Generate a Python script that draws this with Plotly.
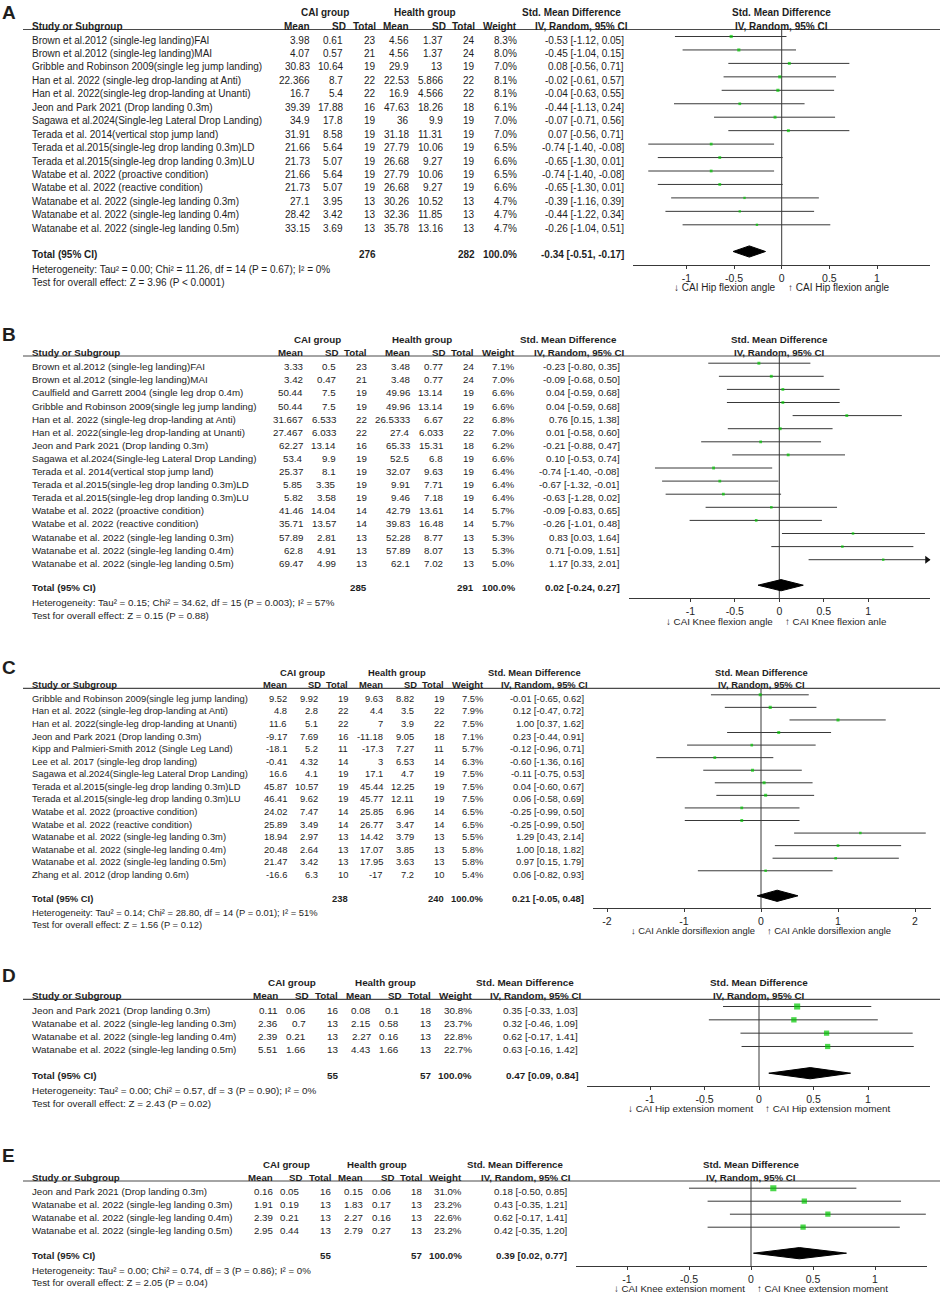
import plotly.graph_objects as go

# ======================= DATA =======================
A_study = [
    "Brown et al.2012 (single-leg landing)FAI",
    "Brown et al.2012 (single-leg landing)MAI",
    "Gribble and Robinson 2009(single leg jump landing)",
    "Han et al. 2022 (single-leg drop-landing at Anti)",
    "Han et al. 2022(single-leg drop-landing at Unanti)",
    "Jeon and Park 2021 (Drop landing 0.3m)",
    "Sagawa et al.2024(Single-leg Lateral Drop Landing)",
    "Terada et al. 2014(vertical stop jump land)",
    "Terada et al.2015(single-leg drop landing 0.3m)LD",
    "Terada et al.2015(single-leg drop landing 0.3m)LU",
    "Watabe et al. 2022 (proactive condition)",
    "Watabe et al. 2022 (reactive condition)",
    "Watanabe et al. 2022 (single-leg landing 0.3m)",
    "Watanabe et al. 2022 (single-leg landing 0.4m)",
    "Watanabe et al. 2022 (single-leg landing 0.5m)",
]
A_cai_mean = [3.98, 4.07, 30.83, 22.366, 16.7, 39.39, 34.9, 31.91, 21.66, 21.73, 21.66, 21.73, 27.1, 28.42, 33.15]
A_cai_sd = [0.61, 0.57, 10.64, 8.7, 5.4, 17.88, 17.8, 8.58, 5.64, 5.07, 5.64, 5.07, 3.95, 3.42, 3.69]
A_cai_n = [23, 21, 19, 22, 22, 16, 19, 19, 19, 19, 19, 19, 13, 13, 13]
A_hlt_mean = [4.56, 4.56, 29.9, 22.53, 16.9, 47.63, 36, 31.18, 27.79, 26.68, 27.79, 26.68, 30.26, 32.36, 35.78]
A_hlt_sd = [1.37, 1.37, 13, 5.866, 4.566, 18.26, 9.9, 11.31, 10.06, 9.27, 10.06, 9.27, 10.52, 11.85, 13.16]
A_hlt_n = [24, 24, 19, 22, 22, 18, 19, 19, 19, 19, 19, 19, 13, 13, 13]
A_weight = [8.3, 8.0, 7.0, 8.1, 8.1, 6.1, 7.0, 7.0, 6.5, 6.6, 6.5, 6.6, 4.7, 4.7, 4.7]
A_smd = [-0.53, -0.45, 0.08, -0.02, -0.04, -0.44, -0.07, 0.07, -0.74, -0.65, -0.74, -0.65, -0.39, -0.44, -0.26]
A_ci_low = [-1.12, -1.04, -0.56, -0.61, -0.63, -1.13, -0.71, -0.56, -1.40, -1.30, -1.40, -1.30, -1.16, -1.22, -1.04]
A_ci_high = [0.05, 0.15, 0.71, 0.57, 0.55, 0.24, 0.56, 0.71, -0.08, 0.01, -0.08, 0.01, 0.39, 0.34, 0.51]
A_total_n = [276, 282]
A_total_smd = [-0.34, -0.51, -0.17]
A_heterogeneity = "Heterogeneity: Tau² = 0.00; Chi² = 11.26, df = 14 (P = 0.67); I² = 0%"
A_overall = "Test for overall effect: Z = 3.96 (P < 0.0001)"
A_direction = ["↓ CAI Hip flexion angle", "↑ CAI Hip flexion angle"]

B_study = [
    "Brown et al.2012 (single-leg landing)FAI",
    "Brown et al.2012 (single-leg landing)MAI",
    "Caulfield and Garrett 2004 (single leg drop 0.4m)",
    "Gribble and Robinson 2009(single leg jump landing)",
    "Han et al. 2022 (single-leg drop-landing at Anti)",
    "Han et al. 2022(single-leg drop-landing at Unanti)",
    "Jeon and Park 2021 (Drop landing 0.3m)",
    "Sagawa et al.2024(Single-leg Lateral Drop Landing)",
    "Terada et al. 2014(vertical stop jump land)",
    "Terada et al.2015(single-leg drop landing 0.3m)LD",
    "Terada et al.2015(single-leg drop landing 0.3m)LU",
    "Watabe et al. 2022 (proactive condition)",
    "Watabe et al. 2022 (reactive condition)",
    "Watanabe et al. 2022 (single-leg landing 0.3m)",
    "Watanabe et al. 2022 (single-leg landing 0.4m)",
    "Watanabe et al. 2022 (single-leg landing 0.5m)",
]
B_cai_mean = [3.33, 3.42, 50.44, 50.44, 31.667, 27.467, 62.27, 53.4, 25.37, 5.85, 5.82, 41.46, 35.71, 57.89, 62.8, 69.47]
B_cai_sd = [0.5, 0.47, 7.5, 7.5, 6.533, 6.033, 13.14, 9.9, 8.1, 3.35, 3.58, 14.04, 13.57, 2.81, 4.91, 4.99]
B_cai_n = [23, 21, 19, 19, 22, 22, 16, 19, 19, 19, 19, 14, 14, 13, 13, 13]
B_hlt_mean = [3.48, 3.48, 49.96, 49.96, 26.5333, 27.4, 65.33, 52.5, 32.07, 9.91, 9.46, 42.79, 39.83, 52.28, 57.89, 62.1]
B_hlt_sd = [0.77, 0.77, 13.14, 13.14, 6.67, 6.033, 15.31, 6.8, 9.63, 7.71, 7.18, 13.61, 16.48, 8.77, 8.07, 7.02]
B_hlt_n = [24, 24, 19, 19, 22, 22, 18, 19, 19, 19, 19, 14, 14, 13, 13, 13]
B_weight = [7.1, 7.0, 6.6, 6.6, 6.8, 7.0, 6.2, 6.6, 6.4, 6.4, 6.4, 5.7, 5.7, 5.3, 5.3, 5.0]
B_smd = [-0.23, -0.09, 0.04, 0.04, 0.76, 0.01, -0.21, 0.10, -0.74, -0.67, -0.63, -0.09, -0.26, 0.83, 0.71, 1.17]
B_ci_low = [-0.80, -0.68, -0.59, -0.59, 0.15, -0.58, -0.88, -0.53, -1.40, -1.32, -1.28, -0.83, -1.01, 0.03, -0.09, 0.33]
B_ci_high = [0.35, 0.50, 0.68, 0.68, 1.38, 0.60, 0.47, 0.74, -0.08, -0.01, 0.02, 0.65, 0.48, 1.64, 1.51, 2.01]
B_total_n = [285, 291]
B_total_smd = [0.02, -0.24, 0.27]
B_heterogeneity = "Heterogeneity: Tau² = 0.15; Chi² = 34.62, df = 15 (P = 0.003); I² = 57%"
B_overall = "Test for overall effect: Z = 0.15 (P = 0.88)"
B_direction = ["↓ CAI Knee flexion angle", "↑ CAI Knee flexion anle"]

C_study = [
    "Gribble and Robinson 2009(single leg jump landing)",
    "Han et al. 2022 (single-leg drop-landing at Anti)",
    "Han et al. 2022(single-leg drop-landing at Unanti)",
    "Jeon and Park 2021 (Drop landing 0.3m)",
    "Kipp and Palmieri-Smith 2012 (Single Leg Land)",
    "Lee et al. 2017 (single-leg drop landing)",
    "Sagawa et al.2024(Single-leg Lateral Drop Landing)",
    "Terada et al.2015(single-leg drop landing 0.3m)LD",
    "Terada et al.2015(single-leg drop landing 0.3m)LU",
    "Watabe et al. 2022 (proactive condition)",
    "Watabe et al. 2022 (reactive condition)",
    "Watanabe et al. 2022 (single-leg landing 0.3m)",
    "Watanabe et al. 2022 (single-leg landing 0.4m)",
    "Watanabe et al. 2022 (single-leg landing 0.5m)",
    "Zhang et al. 2012 (drop landing 0.6m)",
]
C_cai_mean = [9.52, 4.8, 11.6, -9.17, -18.1, -0.41, 16.6, 45.87, 46.41, 24.02, 25.89, 18.94, 20.48, 21.47, -16.6]
C_cai_sd = [9.92, 2.8, 5.1, 7.69, 5.2, 4.32, 4.1, 10.57, 9.62, 7.47, 3.49, 2.97, 2.64, 3.42, 6.3]
C_cai_n = [19, 22, 22, 16, 11, 14, 19, 19, 19, 14, 14, 13, 13, 13, 10]
C_hlt_mean = [9.63, 4.4, 7, -11.18, -17.3, 3, 17.1, 45.44, 45.77, 25.85, 26.77, 14.42, 17.07, 17.95, -17]
C_hlt_sd = [8.82, 3.5, 3.9, 9.05, 7.27, 6.53, 4.7, 12.25, 12.11, 6.96, 3.47, 3.79, 3.85, 3.63, 7.2]
C_hlt_n = [19, 22, 22, 18, 11, 14, 19, 19, 19, 14, 14, 13, 13, 13, 10]
C_weight = [7.5, 7.9, 7.5, 7.1, 5.7, 6.3, 7.5, 7.5, 7.5, 6.5, 6.5, 5.5, 5.8, 5.8, 5.4]
C_smd = [-0.01, 0.12, 1.00, 0.23, -0.12, -0.60, -0.11, 0.04, 0.06, -0.25, -0.25, 1.29, 1.00, 0.97, 0.06]
C_ci_low = [-0.65, -0.47, 0.37, -0.44, -0.96, -1.36, -0.75, -0.60, -0.58, -0.99, -0.99, 0.43, 0.18, 0.15, -0.82]
C_ci_high = [0.62, 0.72, 1.62, 0.91, 0.71, 0.16, 0.53, 0.67, 0.69, 0.50, 0.50, 2.14, 1.82, 1.79, 0.93]
C_total_n = [238, 240]
C_total_smd = [0.21, -0.05, 0.48]
C_heterogeneity = "Heterogeneity: Tau² = 0.14; Chi² = 28.80, df = 14 (P = 0.01); I² = 51%"
C_overall = "Test for overall effect: Z = 1.56 (P = 0.12)"
C_direction = ["↓ CAI Ankle dorsiflexion angle", "↑ CAI Ankle dorsiflexion angle"]

D_study = [
    "Jeon and Park 2021 (Drop landing 0.3m)",
    "Watanabe et al. 2022 (single-leg landing 0.3m)",
    "Watanabe et al. 2022 (single-leg landing 0.4m)",
    "Watanabe et al. 2022 (single-leg landing 0.5m)",
]
D_cai_mean = [0.11, 2.36, 2.39, 5.51]
D_cai_sd = [0.06, 0.7, 0.21, 1.66]
D_cai_n = [16, 13, 13, 13]
D_hlt_mean = [0.08, 2.15, 2.27, 4.43]
D_hlt_sd = [0.1, 0.58, 0.16, 1.66]
D_hlt_n = [18, 13, 13, 13]
D_weight = [30.8, 23.7, 22.8, 22.7]
D_smd = [0.35, 0.32, 0.62, 0.63]
D_ci_low = [-0.33, -0.46, -0.17, -0.16]
D_ci_high = [1.03, 1.09, 1.41, 1.42]
D_total_n = [55, 57]
D_total_smd = [0.47, 0.09, 0.84]
D_heterogeneity = "Heterogeneity: Tau² = 0.00; Chi² = 0.57, df = 3 (P = 0.90); I² = 0%"
D_overall = "Test for overall effect: Z = 2.43 (P = 0.02)"
D_direction = ["↓ CAI Hip extension moment", "↑ CAI Hip extension moment"]

E_study = [
    "Jeon and Park 2021 (Drop landing 0.3m)",
    "Watanabe et al. 2022 (single-leg landing 0.3m)",
    "Watanabe et al. 2022 (single-leg landing 0.4m)",
    "Watanabe et al. 2022 (single-leg landing 0.5m)",
]
E_cai_mean = [0.16, 1.91, 2.39, 2.95]
E_cai_sd = [0.05, 0.19, 0.21, 0.44]
E_cai_n = [16, 13, 13, 13]
E_hlt_mean = [0.15, 1.83, 2.27, 2.79]
E_hlt_sd = [0.06, 0.17, 0.16, 0.27]
E_hlt_n = [18, 13, 13, 13]
E_weight = [31.0, 23.2, 22.6, 23.2]
E_smd = [0.18, 0.43, 0.62, 0.42]
E_ci_low = [-0.50, -0.35, -0.17, -0.35]
E_ci_high = [0.85, 1.21, 1.41, 1.20]
E_total_n = [55, 57]
E_total_smd = [0.39, 0.02, 0.77]
E_heterogeneity = "Heterogeneity: Tau² = 0.00; Chi² = 0.74, df = 3 (P = 0.86); I² = 0%"
E_overall = "Test for overall effect: Z = 2.05 (P = 0.04)"
E_direction = ["↓ CAI Knee extension moment", "↑ CAI Knee extension moment"]

TOTAL_WEIGHT = 100.0
TICKS_SMALL = [-1, -0.5, 0, 0.5, 1]
TICK_TEXT_SMALL = ["-1", "-0.5", "0", "0.5", "1"]
TICKS_WIDE = [-2, -1, 0, 1, 2]
TICK_TEXT_WIDE = ["-2", "-1", "0", "1", "2"]

HEADER_GROUPS = ["CAI group", "Health group", "Std. Mean Difference"]
HEADER_COLS = ["Study or Subgroup", "Mean", "SD", "Total", "Mean", "SD", "Total", "Weight", "IV, Random, 95% CI"]
TOTAL_LABEL = "Total (95% CI)"

PANELS = {
    "A": dict(study=A_study, cm=A_cai_mean, cs=A_cai_sd, cn=A_cai_n, hm=A_hlt_mean, hs=A_hlt_sd, hn=A_hlt_n,
              w=A_weight, smd=A_smd, lo=A_ci_low, hi=A_ci_high, tn=A_total_n, tsmd=A_total_smd,
              het=A_heterogeneity, test=A_overall, dirn=A_direction, ticks=TICKS_SMALL, ticktext=TICK_TEXT_SMALL),
    "B": dict(study=B_study, cm=B_cai_mean, cs=B_cai_sd, cn=B_cai_n, hm=B_hlt_mean, hs=B_hlt_sd, hn=B_hlt_n,
              w=B_weight, smd=B_smd, lo=B_ci_low, hi=B_ci_high, tn=B_total_n, tsmd=B_total_smd,
              het=B_heterogeneity, test=B_overall, dirn=B_direction, ticks=TICKS_SMALL, ticktext=TICK_TEXT_SMALL),
    "C": dict(study=C_study, cm=C_cai_mean, cs=C_cai_sd, cn=C_cai_n, hm=C_hlt_mean, hs=C_hlt_sd, hn=C_hlt_n,
              w=C_weight, smd=C_smd, lo=C_ci_low, hi=C_ci_high, tn=C_total_n, tsmd=C_total_smd,
              het=C_heterogeneity, test=C_overall, dirn=C_direction, ticks=TICKS_WIDE, ticktext=TICK_TEXT_WIDE),
    "D": dict(study=D_study, cm=D_cai_mean, cs=D_cai_sd, cn=D_cai_n, hm=D_hlt_mean, hs=D_hlt_sd, hn=D_hlt_n,
              w=D_weight, smd=D_smd, lo=D_ci_low, hi=D_ci_high, tn=D_total_n, tsmd=D_total_smd,
              het=D_heterogeneity, test=D_overall, dirn=D_direction, ticks=TICKS_SMALL, ticktext=TICK_TEXT_SMALL),
    "E": dict(study=E_study, cm=E_cai_mean, cs=E_cai_sd, cn=E_cai_n, hm=E_hlt_mean, hs=E_hlt_sd, hn=E_hlt_n,
              w=E_weight, smd=E_smd, lo=E_ci_low, hi=E_ci_high, tn=E_total_n, tsmd=E_total_smd,
              het=E_heterogeneity, test=E_overall, dirn=E_direction, ticks=TICKS_SMALL, ticktext=TICK_TEXT_SMALL),
}

# ======================= LAYOUT (pixel positions) =======================
W, H = 941, 1294
FONT = "Liberation Sans, Arial, sans-serif"
TXT = "#1e1e1e"
LINE = "#383838"
GREEN = "#00C800"
STUDY_X = 31.5

LAYOUT = {
    "A": dict(fs=10.0, label_y=12, h1=12.3, h2=26, line=29.5, row0=40, dy=13.45, total=254, het=269, test=282,
              axis=265, axlab=287, cols=[310, 343, 376, 409, 443, 475, 517, 624],
              cai_c=325, hlt_c=425, smd_c=571, x0=633, x1=930, zero=781.7, unit=95.3),
    "B": dict(fs=9.75, label_y=334, h1=339, h2=352, line=356, row0=366.7, dy=13.1, total=587.7, het=602.7, test=615,
              axis=598.3, axlab=621, cols=[302.7, 335.7, 366.7, 410, 442.7, 474, 515, 620],
              cai_c=317, hlt_c=421.7, smd_c=568, x0=629.3, x1=930, zero=779.3, unit=88.8),
    "C": dict(fs=9.4, label_y=667, h1=672, h2=684.3, line=688.3, row0=698.3, dy=12.57, total=898.3, het=912, test=924.3,
              axis=908.3, axlab=930, cols=[286.7, 318.3, 348.3, 382.7, 414.3, 444.3, 483.3, 584],
              cai_c=302.7, hlt_c=396.7, smd_c=534, x0=592.7, x1=930.7, zero=761, unit=77),
    "D": dict(fs=9.9, label_y=975, h1=982.7, h2=995.7, line=999.3, row0=1010, dy=13.33, total=1075.7, het=1090, test=1103.3,
              axis=1086, axlab=1108.7, cols=[277.7, 305.7, 337.7, 370.7, 399, 430.7, 471.7, 578.3],
              cai_c=292.3, hlt_c=385, smd_c=525, x0=586.7, x1=930, zero=759, unit=109),
    "E": dict(fs=9.7, label_y=1155, h1=1164.7, h2=1177.7, line=1181, row0=1191.7, dy=13, total=1255.7, het=1270, test=1282.7,
              axis=1266, axlab=1288.3, cols=[272.7, 299.3, 331, 363.3, 390.7, 421.7, 462, 566.7],
              cai_c=286.7, hlt_c=377.3, smd_c=515, x0=575.7, x1=927.3, zero=751, unit=124),
}
PLOT_SHIFT = -3.5
DIAMOND_SHIFT = -2.5
DIAMOND_HALF = 5.6

fig = go.Figure()
annotations = []
shapes = []


def ann(x, y, text, anchor="left", bold=False, size=10, xref="paper", xshift=0):
    if bold:
        text = f"<b>{text}</b>"
    annotations.append(dict(
        x=(x / W) if xref == "paper" else x, y=y, xref=xref, yref="y", text=text,
        showarrow=False, xanchor=anchor, yanchor="middle", xshift=xshift,
        borderpad=0, borderwidth=0,
        font=dict(family=FONT, size=size, color=TXT)))


def fci(s, l, h):
    return f"{s:.2f} [{l:.2f}, {h:.2f}]"


for k, (key, P) in enumerate(PANELS.items(), start=1):
    L = LAYOUT[key]
    fs = L["fs"]
    xname = "x" if k == 1 else f"x{k}"
    xlay = "xaxis" if k == 1 else f"xaxis{k}"
    rmin = (L["x0"] - L["zero"]) / L["unit"]
    rmax = (L["x1"] - L["zero"]) / L["unit"]
    c = L["cols"]

    # panel label
    ann(2, L["label_y"], key, bold=True, size=19)
    # headers
    ann(L["cai_c"], L["h1"], HEADER_GROUPS[0], anchor="center", bold=True, size=fs)
    ann(L["hlt_c"], L["h1"], HEADER_GROUPS[1], anchor="center", bold=True, size=fs)
    ann(L["smd_c"], L["h1"], HEADER_GROUPS[2], anchor="center", bold=True, size=fs)
    ann(L["zero"], L["h1"], HEADER_GROUPS[2], anchor="center", bold=True, size=fs)
    ann(STUDY_X, L["h2"], HEADER_COLS[0], bold=True, size=fs)
    for j in range(7):
        ann(c[j] + (3 if HEADER_COLS[j + 1] == "SD" else 0), L["h2"], HEADER_COLS[j + 1],
            anchor="right", bold=True, size=fs)
    ann(c[7] + 4, L["h2"], HEADER_COLS[8], anchor="right", bold=True, size=fs)
    ann(L["zero"], L["h2"], HEADER_COLS[8], anchor="center", bold=True, size=fs)
    shapes.append(dict(type="line", xref="paper", yref="y", x0=23 / W, x1=940 / W,
                       y0=L["line"], y1=L["line"], line=dict(color="#4a4a4a", width=1.2)))

    n = len(P["study"])
    ys = [L["row0"] + i * L["dy"] for i in range(n)]
    for i in range(n):
        y = ys[i]
        ann(STUDY_X, y, P["study"][i], size=fs)
        vals = [P["cm"][i], P["cs"][i], P["cn"][i], P["hm"][i], P["hs"][i], P["hn"][i]]
        for j, v in enumerate(vals):
            ann(c[j], y, str(v), anchor="right", size=fs)
        ann(c[6], y, f"{P['w'][i]:.1f}%", anchor="right", size=fs)
        ann(c[7], y, fci(P["smd"][i], P["lo"][i], P["hi"][i]), anchor="right", size=fs)

    # totals
    ann(STUDY_X, L["total"], TOTAL_LABEL, bold=True, size=fs)
    ann(c[2], L["total"], str(P["tn"][0]), anchor="right", bold=True, size=fs)
    ann(c[5], L["total"], str(P["tn"][1]), anchor="right", bold=True, size=fs)
    ann(c[6], L["total"], f"{TOTAL_WEIGHT:.1f}%", anchor="right", bold=True, size=fs)
    ann(c[7], L["total"], fci(*P["tsmd"]), anchor="right", bold=True, size=fs)
    ann(STUDY_X, L["het"], P["het"], size=fs)
    ann(STUDY_X, L["test"], P["test"], size=fs)

    # direction labels
    ann(0, L["axlab"], P["dirn"][0], anchor="right", xref=xname, xshift=-6, size=fs)
    ann(0, L["axlab"], P["dirn"][1], anchor="left", xref=xname, xshift=6, size=fs)

    # zero line
    fig.add_trace(go.Scatter(x=[0, 0], y=[L["line"], L["axis"]], mode="lines",
                             line=dict(color=LINE, width=1), xaxis=xname, yaxis="y",
                             hoverinfo="skip", showlegend=False))

    # CI lines
    lx, ly, arrows_x, arrows_y = [], [], [], []
    for i in range(n):
        yy = ys[i] + PLOT_SHIFT
        lo_v = max(P["lo"][i], rmin)
        hi_v = min(P["hi"][i], rmax)
        lx += [lo_v, hi_v, None]
        ly += [yy, yy, None]
        if P["hi"][i] > rmax:
            arrows_x.append(rmax - 3 / L["unit"])
            arrows_y.append(yy)
    fig.add_trace(go.Scatter(x=lx, y=ly, mode="lines", line=dict(color=LINE, width=1),
                             xaxis=xname, yaxis="y", hoverinfo="skip", showlegend=False))
    if arrows_x:
        fig.add_trace(go.Scatter(x=arrows_x, y=arrows_y, mode="markers",
                                 marker=dict(symbol="triangle-right", size=7, color="#111111"),
                                 xaxis=xname, yaxis="y", cliponaxis=False,
                                 hoverinfo="skip", showlegend=False))

    # study squares (area proportional to weight)
    fig.add_trace(go.Scatter(x=P["smd"], y=[v + PLOT_SHIFT for v in ys], mode="markers",
                             marker=dict(symbol="square", color=GREEN,
                                         size=[1.1 * (wv ** 0.5) for wv in P["w"]],
                                         line=dict(width=0)),
                             xaxis=xname, yaxis="y", hoverinfo="skip", showlegend=False))

    # pooled diamond
    s, l, h = P["tsmd"]
    yc = L["total"] + DIAMOND_SHIFT
    fig.add_trace(go.Scatter(x=[l, s, h, s, l], y=[yc, yc - DIAMOND_HALF, yc, yc + DIAMOND_HALF, yc],
                             mode="lines", fill="toself", fillcolor="#000000",
                             line=dict(color="#000000", width=1),
                             xaxis=xname, yaxis="y", hoverinfo="skip", showlegend=False))

    fig.update_layout({xlay: dict(
        domain=[L["x0"] / W, L["x1"] / W], range=[rmin, rmax], anchor="free",
        position=1 - L["axis"] / H, showline=True, linecolor=LINE, linewidth=1,
        ticks="outside", ticklen=3, tickcolor=LINE, tickwidth=1.2,
        tickvals=P["ticks"], ticktext=P["ticktext"],
        tickfont=dict(family=FONT, size=10.5, color=TXT),
        showgrid=False, zeroline=False, fixedrange=True)})

fig.update_layout(
    width=W, height=H, autosize=False,
    margin=dict(l=0, r=0, t=0, b=0),
    paper_bgcolor="white", plot_bgcolor="rgba(0,0,0,0)",
    yaxis=dict(domain=[0, 1], range=[H, 0], visible=False, fixedrange=True),
    annotations=annotations, shapes=shapes, showlegend=False,
    font=dict(family=FONT, color=TXT),
)

fig.write_html("out.html", config={"displayModeBar": False},
               post_script="document.body.style.margin='0';document.body.style.overflow='hidden';")
